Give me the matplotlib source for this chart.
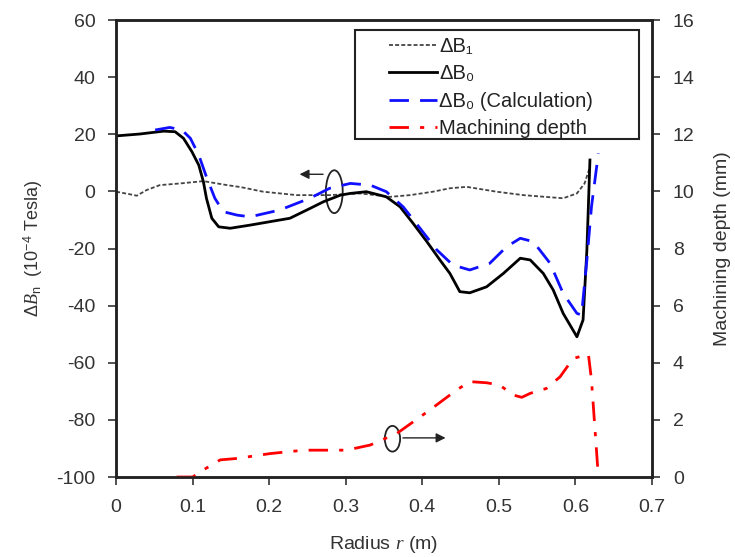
import matplotlib
matplotlib.use("Agg")
import matplotlib.pyplot as plt
from matplotlib.patches import Ellipse, Rectangle

plt.rcParams['font.family'] = ['Liberation Sans', 'DejaVu Sans']
plt.rcParams['mathtext.fontset'] = 'custom'
plt.rcParams['mathtext.it'] = 'Liberation Serif:italic'
plt.rcParams['mathtext.rm'] = 'Liberation Sans'
plt.rcParams['axes.unicode_minus'] = False

# Measured field error, first harmonic
r_b1 = [0.0, 0.018, 0.027, 0.04, 0.057, 0.084, 0.114, 0.145, 0.163, 0.192,
        0.236, 0.279, 0.319, 0.358, 0.384, 0.414, 0.436, 0.458, 0.497, 0.532,
        0.584, 0.602, 0.612, 0.617, 0.619]
b1 = [-0.1, -1.0, -1.5, 0.5, 2.2, 2.8, 3.6, 2.2, 1.5, -0.1,
      -1.3, -1.3, -0.7, -1.9, -1.3, -0.1, 1.1, 1.6, -0.1, -1.3,
      -2.4, -0.7, 2.8, 6.9, 8.5]

# Measured field error, zeroth harmonic
r_b0 = [0.003, 0.031, 0.062, 0.077, 0.088, 0.099, 0.108, 0.114, 0.118, 0.125,
        0.134, 0.149, 0.175, 0.201, 0.227, 0.253, 0.271, 0.293, 0.306, 0.327,
        0.353, 0.371, 0.388, 0.406, 0.423, 0.436, 0.449, 0.462, 0.484, 0.506,
        0.528, 0.541, 0.558, 0.571, 0.584, 0.602, 0.61, 0.615, 0.619]
b0 = [19.5, 20.1, 21.1, 20.9, 18.6, 13.9, 9.2, 3.4, -2.4, -9.4,
      -12.4, -12.9, -11.8, -10.6, -9.4, -6.0, -3.6, -1.3, -0.7, -0.1,
      -1.9, -5.4, -11.2, -17.6, -24.0, -28.7, -35.1, -35.5, -33.4, -28.7,
      -23.4, -24.0, -28.7, -34.5, -42.7, -50.9, -45.0, -20.5, 11.0]

# Calculated zeroth harmonic
r_calc = [0.051, 0.07, 0.086, 0.097, 0.108, 0.118, 0.129, 0.14, 0.158, 0.175,
          0.214, 0.253, 0.279, 0.306, 0.332, 0.353, 0.375, 0.397, 0.419, 0.44,
          0.462, 0.488, 0.51, 0.528, 0.545, 0.567, 0.584, 0.602, 0.608, 0.615,
          0.621, 0.63]
b0_calc = [21.5, 22.4, 21.5, 18.6, 12.7, 5.1, -2.4, -7.1, -8.3, -8.9,
           -6.5, -2.4, 1.1, 2.8, 2.2, -0.1, -5.4, -12.9, -20.5, -25.8,
           -27.5, -25.2, -19.4, -16.4, -17.6, -25.2, -35.7, -42.7, -43.3, -24.0,
           -5.4, 13.3]

# Machining depth (mm)
r_depth = [0.079, 0.1, 0.114, 0.136, 0.158, 0.201, 0.245, 0.301, 0.332, 0.367,
           0.41, 0.445, 0.462, 0.484, 0.501, 0.519, 0.53, 0.541, 0.562, 0.58,
           0.597, 0.617, 0.621, 0.63]
depth = [0.0, 0.0, 0.25, 0.6, 0.65, 0.82, 0.94, 0.94, 1.12, 1.53,
         2.35, 3.05, 3.34, 3.3, 3.22, 2.87, 2.79, 2.93, 3.1, 3.51,
         4.15, 4.3, 3.4, 0.0]

x_ticks = [0, 0.1, 0.2, 0.3, 0.4, 0.5, 0.6, 0.7]
x_tick_labels = ['0', '0.1', '0.2', '0.3', '0.4', '0.5', '0.6', '0.7']
y_ticks = list(range(-100, 61, 20))
y2_ticks = list(range(0, 17, 2))

fig = plt.figure(figsize=(7.35, 5.57), dpi=100)
ax = fig.add_axes([0.158, 0.1436, 0.729, 0.8204])
ax2 = ax.twinx()

l1, = ax.plot(r_b1, b1, color='#444444', lw=1.3, dashes=(2.2, 1.2), label='ΔB₁')
l2, = ax.plot(r_b0, b0, color='black', lw=2.0, label='ΔB₀')
l3, = ax.plot(r_calc, b0_calc, color='#1010ff', lw=2.0, dashes=(7, 4), label='ΔB₀ (Calculation)')
l4, = ax2.plot(r_depth, depth, color='#ff0000', lw=2.0, dashes=(7, 4, 1.5, 4), label='Machining depth')

ax.set_xlim(0, 0.7)
ax.set_ylim(-100, 60)
ax2.set_ylim(0, 16)
ax.set_xticks(x_ticks)
ax.set_xticklabels(x_tick_labels)
ax.set_yticks(y_ticks)
ax2.set_yticks(y2_ticks)

for a in (ax, ax2):
    a.tick_params(direction='out', length=6, width=1.2, labelsize=14, colors='#333333')
    for s in a.spines.values():
        s.set_linewidth(1.8)
        s.set_color('#222222')
ax.tick_params(axis='x', pad=10)
ax.tick_params(axis='y', pad=9)
ax2.tick_params(axis='y', pad=9)

ax.set_xlabel('Radius $\\mathit{r}$ (m)', fontsize=14, labelpad=13, color='#333333')
ax.set_ylabel('$\\mathit{\\Delta B}_{\\mathrm{n}}$  (10$^{-4}$ Tesla)', fontsize=13, labelpad=8, color='#333333')
ax2.set_ylabel('Machining depth (mm)', fontsize=14, labelpad=14, color='#333333')

# Legend box and entries
fig.patches.append(Rectangle((355 / 735, 1 - 139 / 557), 284 / 735, 109 / 557,
                             transform=fig.transFigure, fill=False,
                             edgecolor='#222222', lw=1.5))
leg = ax.legend(handles=[l1, l2, l3, l4], loc='upper left',
                bbox_to_anchor=(389 / 735, 1 - 37 / 557), bbox_transform=fig.transFigure,
                fontsize=14.5, frameon=False, handlelength=2.4, handletextpad=0.1,
                labelspacing=0.42, borderpad=0, borderaxespad=0)
for t in leg.get_texts():
    t.set_color('#222222')

# Axis indicators: loop around the curves with an arrow toward the axis used
ax.add_patch(Ellipse((0.285, -0.1), 0.022, 15, fill=False, lw=1.3, color='#222222'))
ax.annotate('', xy=(0.236, 6.0), xytext=(0.274, 6.0),
            arrowprops=dict(arrowstyle='-|>', color='#222222', lw=1.0, mutation_scale=14))
ax2.add_patch(Ellipse((0.361, 1.34), 0.02, 0.9, fill=False, lw=1.3, color='#222222'))
ax2.annotate('', xy=(0.434, 1.37), xytext=(0.371, 1.37),
             arrowprops=dict(arrowstyle='-|>', color='#222222', lw=1.0, mutation_scale=14))

fig.savefig('out.png', dpi=100)
